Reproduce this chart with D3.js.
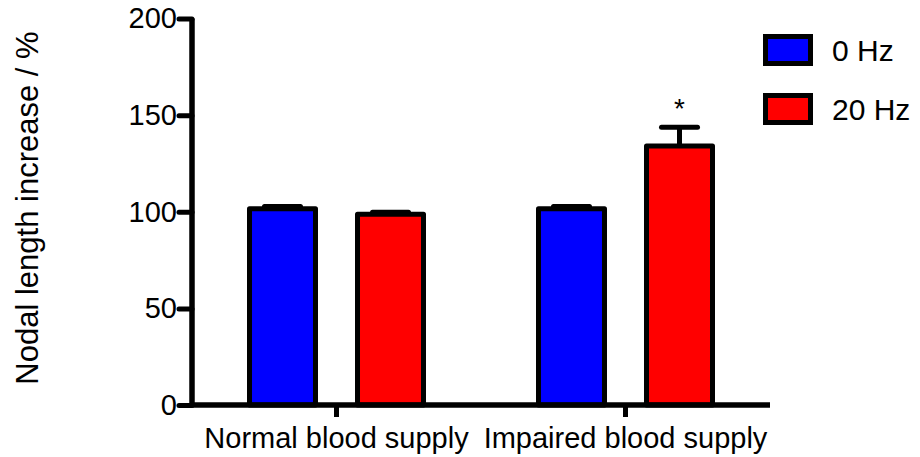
<!DOCTYPE html>
<html>
<head>
<meta charset="utf-8">
<script src="https://cdn.jsdelivr.net/npm/d3@7"></script>
<style>
  body { margin: 0; background: #fff; }
  svg { display: block; font-family: "Liberation Sans", Arial, sans-serif; }
</style>
</head>
<body>
<svg id="chart" width="920" height="457"></svg>
<script>
// data
let groups = ['Normal blood supply', 'Impaired blood supply']
let series = ['0 Hz', '20 Hz']
let seriesColors = ['#0000ff', '#ff0000']
let means0Hz = [101.5, 101.5]
let means20Hz = [98.7, 134]
let errors0Hz = [1.2, 1.2]
let errors20Hz = [1, 9.7]
let yTicks = [0, 50, 100, 150, 200]
let significant20Hz = [false, true]

let svg = d3.select('#chart')
let strokeW = 5

let x = d3.scaleBand()
  .domain(groups)
  .range([192, 770])

let xSub = d3.scaleBand()
  .domain(series)
  .range([-87, 87])
  .paddingInner(0.389)

let y = d3.scaleLinear()
  .domain([0, 200])
  .range([405, 18.5])

let color = d3.scaleOrdinal().domain(series).range(seriesColors)

// build rows for the bars
let rows = []
groups.forEach((g, i) => {
  rows.push({ group: g, series: '0 Hz', mean: means0Hz[i], err: errors0Hz[i], star: false })
  rows.push({ group: g, series: '20 Hz', mean: means20Hz[i], err: errors20Hz[i], star: significant20Hz[i] })
})

let cx = d => x(d.group) + x.bandwidth() / 2 + xSub(d.series) + xSub.bandwidth() / 2

// error bars (drawn first so bar outline covers bottom)
let errG = svg.append('g').attr('id', 'errors')
errG.selectAll('.err-line')
  .data(rows)
  .enter()
  .append('line')
  .attr('x1', cx).attr('x2', cx)
  .attr('y1', d => y(d.mean))
  .attr('y2', d => y(d.mean + d.err))
  .attr('stroke', 'black')
  .attr('stroke-width', strokeW)

errG.selectAll('.err-cap')
  .data(rows)
  .enter()
  .append('line')
  .attr('x1', d => cx(d) - 18).attr('x2', d => cx(d) + 18)
  .attr('y1', d => y(d.mean + d.err))
  .attr('y2', d => y(d.mean + d.err))
  .attr('stroke', 'black')
  .attr('stroke-width', strokeW)
  .attr('stroke-linecap', 'round')

// bars
svg.append('g').attr('id', 'bars')
  .selectAll('rect')
  .data(rows)
  .enter()
  .append('rect')
  .attr('x', d => cx(d) - xSub.bandwidth() / 2)
  .attr('width', xSub.bandwidth())
  .attr('y', d => y(d.mean))
  .attr('height', d => y(0) - y(d.mean))
  .attr('fill', d => color(d.series))
  .attr('stroke', 'black')
  .attr('stroke-width', strokeW)
  .attr('stroke-linejoin', 'round')

// significance marks
svg.append('g').selectAll('text')
  .data(rows.filter(d => d.star))
  .enter()
  .append('text')
  .attr('x', cx)
  .attr('y', d => y(d.mean + d.err) - 9)
  .attr('text-anchor', 'middle')
  .attr('font-size', 28)
  .text('*')

// y axis
let yAxis = d3.axisLeft(y).tickValues(yTicks).tickSize(13).tickPadding(2)
let gy = svg.append('g')
  .attr('transform', 'translate(192,0)')
  .call(yAxis)
gy.select('.domain').attr('stroke-width', 5.5).attr('d', `M0,${y(200)}V${y(0)}`)
gy.selectAll('.tick line').attr('stroke-width', strokeW).attr('stroke-linecap', 'round')
gy.selectAll('.tick text')
  .attr('font-size', 29)
  .attr('font-family', '"Liberation Sans", Arial, sans-serif')
  .attr('fill', 'black')

// x axis
let xAxis = d3.axisBottom(x).tickSize(12).tickPadding(10)
let gx = svg.append('g')
  .attr('transform', `translate(0,${y(0)})`)
  .call(xAxis)
gx.select('.domain').attr('stroke-width', 5.5).attr('d', `M${x.range()[0] - 2},0H${x.range()[1]}`)
gx.selectAll('.tick line').attr('stroke-width', strokeW)
gx.selectAll('.tick text')
  .attr('font-size', 29)
  .attr('font-family', '"Liberation Sans", Arial, sans-serif')
  .attr('fill', 'black')

// y label
svg.append('text')
  .attr('transform', 'translate(38,208) rotate(-90)')
  .attr('text-anchor', 'middle')
  .attr('font-size', 31)
  .text('Nodal length increase / %')

// legend
let legend = svg.append('g').attr('id', 'legend')
let items = legend.selectAll('g')
  .data(series)
  .enter()
  .append('g')
  .attr('transform', (d, i) => `translate(765.5,${36.5 + i * 59})`)
items.append('rect')
  .attr('width', 45)
  .attr('height', 27)
  .attr('fill', d => color(d))
  .attr('stroke', 'black')
  .attr('stroke-width', strokeW)
items.append('text')
  .attr('x', 66.5)
  .attr('y', 24.5)
  .attr('font-size', 30)
  .text(d => d)
</script>
</body>
</html>
